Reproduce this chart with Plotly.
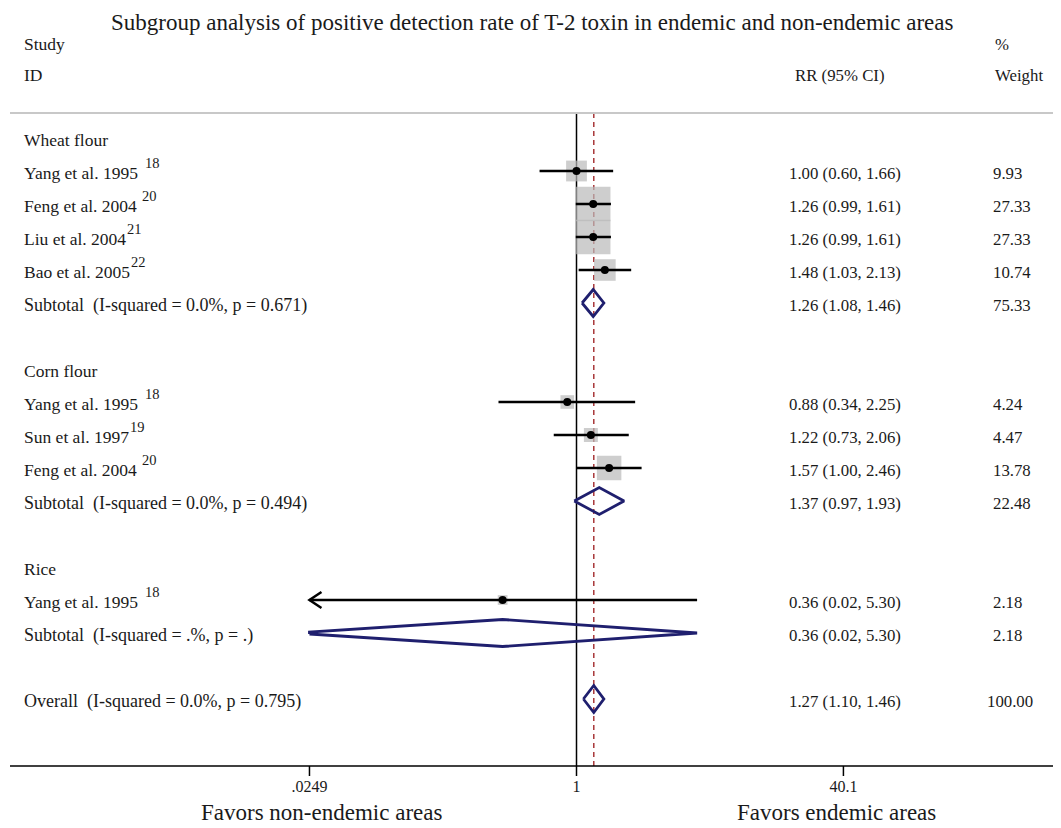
import math
import plotly.graph_objects as go

# ---------------- data ----------------
title = "Subgroup analysis of positive detection rate of T-2 toxin in endemic and non-endemic areas"

groups = ["Wheat flour", "Corn flour", "Rice"]
study_group = [0, 0, 0, 0, 1, 1, 1, 2]
study_labels = ["Yang et al. 1995 ", "Feng et al. 2004 ", "Liu et al. 2004", "Bao et al. 2005",
                "Yang et al. 1995 ", "Sun et al. 1997", "Feng et al. 2004 ", "Yang et al. 1995 "]
study_refs = ["18", "20", "21", "22", "18", "19", "20", "18"]
study_rr = [1.00, 1.26, 1.26, 1.48, 0.88, 1.22, 1.57, 0.36]
study_lo = [0.60, 0.99, 0.99, 1.03, 0.34, 0.73, 1.00, 0.02]
study_hi = [1.66, 1.61, 1.61, 2.13, 2.25, 2.06, 2.46, 5.30]
study_w = [9.93, 27.33, 27.33, 10.74, 4.24, 4.47, 13.78, 2.18]

sub_het = ["I-squared = 0.0%, p = 0.671", "I-squared = 0.0%, p = 0.494", "I-squared = .%, p = ."]
sub_rr = [1.26, 1.37, 0.36]
sub_lo = [1.08, 0.97, 0.02]
sub_hi = [1.46, 1.93, 5.30]
sub_w = [75.33, 22.48, 2.18]

overall_het = "I-squared = 0.0%, p = 0.795"
overall_rr = 1.27
overall_lo = 1.10
overall_hi = 1.46
overall_w = 100.00

tick_vals = [0.0249, 1, 40.1]
tick_text = [".0249", "1", "40.1"]
favors_labels = ["Favors non-endemic areas", "Favors endemic areas"]

# ---------------- layout constants ----------------
PAGE_W, PAGE_H = 1061, 828
OFF = 8                                  # default body margin of the html page
W, H = PAGE_W - OFF, PAGE_H - OFF        # figure size
X1PX, DEC = 576.5, 166.5                 # page pixel of RR=1, pixels per decade
ROW0, ROWH = 138.0, 33.0                 # page pixel of first row, row height
FONT = "Liberation Serif, Times New Roman, serif"
TXT = "#1a1a1a"
NAVY = "#1f1f6e"
GREY = "#b9b9b9"
RED = "#a8383a"
XMIN, XMAX = tick_vals[0], tick_vals[-1]

# Times-compatible advance widths (1/1000 em), used to place the superscripts
TIMES_W = {" ": 250, ".": 250, "a": 444, "e": 444, "g": 500, "i": 278, "l": 278, "n": 500,
           "o": 500, "t": 278, "u": 500, "B": 667, "F": 556, "L": 611, "S": 556, "Y": 722}


def text_width(s, size):
    return sum(TIMES_W.get(c, 500) for c in s) * size / 1000.0


def prow(py):
    return (py - ROW0) / ROWH


def pxp(px):
    return (px - OFF) / W


# rows
rows_group, rows_study, rows_sub = [], [], []
k = 0
for g in range(len(groups)):
    rows_group.append(k)
    k += 1
    for i in range(len(study_labels)):
        if study_group[i] == g:
            rows_study.append(k)
            k += 1
    rows_sub.append(k)
    k += 2
row_overall = k

y_top = prow(113)
y_axis = prow(766)

fig = go.Figure()

# reference lines
fig.add_trace(go.Scatter(x=[1, 1], y=[y_top, y_axis], mode="lines",
                         line=dict(color="black", width=1.5), hoverinfo="skip"))
fig.add_trace(go.Scatter(x=[overall_rr, overall_rr], y=[y_top, y_axis], mode="lines",
                         line=dict(color=RED, width=1.5, dash="5px,4px"), hoverinfo="skip"))

# weight squares
fig.add_trace(go.Scatter(x=study_rr, y=rows_study, mode="markers",
                         marker=dict(symbol="square", color=GREY,
                                     size=[6.6 * math.sqrt(w) for w in study_w],
                                     line=dict(width=0)),
                         hoverinfo="skip"))

# CI lines (clipped) + arrows
cx, cy = [], []
ax_, ay_ = [], []
arrow_dx = 12 / DEC
for r, lo, hi, yy in zip(study_rr, study_lo, study_hi, rows_study):
    lo_c, hi_c = max(lo, XMIN), min(hi, XMAX)
    cx += [lo_c, hi_c, None]
    cy += [yy, yy, None]
    if lo < XMIN:
        ax_ += [lo_c * 10 ** arrow_dx, lo_c, lo_c * 10 ** arrow_dx, None]
        ay_ += [yy - 0.24, yy, yy + 0.24, None]
    if hi > XMAX:
        ax_ += [hi_c / 10 ** arrow_dx, hi_c, hi_c / 10 ** arrow_dx, None]
        ay_ += [yy - 0.24, yy, yy + 0.24, None]
fig.add_trace(go.Scatter(x=cx, y=cy, mode="lines", line=dict(color="black", width=2.5),
                         hoverinfo="skip"))
fig.add_trace(go.Scatter(x=ax_, y=ay_, mode="lines", line=dict(color="black", width=2.5),
                         hoverinfo="skip"))

# point estimates
fig.add_trace(go.Scatter(x=study_rr, y=rows_study, mode="markers",
                         marker=dict(symbol="circle", color="black", size=8),
                         hoverinfo="skip"))


# diamonds
def clip_poly(pts, xmin, xmax):
    def clip(pts, inside, inter):
        out = []
        n = len(pts)
        for i in range(n):
            cur, prev = pts[i], pts[i - 1]
            if inside(cur):
                if not inside(prev):
                    out.append(inter(prev, cur))
                out.append(cur)
            elif inside(prev):
                out.append(inter(prev, cur))
        return out

    def ix(xc):
        def f(a, b):
            t = (xc - a[0]) / (b[0] - a[0])
            return (xc, a[1] + t * (b[1] - a[1]))
        return f
    pts = clip(pts, lambda p: p[0] >= xmin, ix(xmin))
    pts = clip(pts, lambda p: p[0] <= xmax, ix(xmax))
    return pts


HH = 13.5 / ROWH
dx, dy = [], []
for r, lo, hi, yy in zip(sub_rr + [overall_rr], sub_lo + [overall_lo],
                         sub_hi + [overall_hi], rows_sub + [row_overall]):
    L, C, R = math.log10(lo), math.log10(r), math.log10(hi)
    poly = [(L, yy), (C, yy - HH), (R, yy), (C, yy + HH)]
    poly = clip_poly(poly, math.log10(XMIN), math.log10(XMAX))
    poly.append(poly[0])
    dx += [10 ** p[0] for p in poly] + [None]
    dy += [p[1] for p in poly] + [None]
fig.add_trace(go.Scatter(x=dx, y=dy, mode="lines", line=dict(color=NAVY, width=2.8),
                         hoverinfo="skip"))

# bottom axis ticks
tx, ty = [], []
for v in tick_vals:
    tx += [v, v, None]
    ty += [y_axis, prow(776), None]
fig.add_trace(go.Scatter(x=tx, y=ty, mode="lines", line=dict(color="black", width=1.5),
                         hoverinfo="skip"))
fig.add_trace(go.Scatter(x=tick_vals, y=[prow(788)] * len(tick_vals), mode="text",
                         text=tick_text, textposition="middle center",
                         textfont=dict(family=FONT, size=16, color=TXT), hoverinfo="skip"))

# ---------------- text ----------------
ann = []


def txt(px, row, s, size=17.5, xanchor="left", yshift=-2):
    ann.append(dict(x=pxp(px), y=row, xref="paper", yref="y", text=s, showarrow=False,
                    xanchor=xanchor, yanchor="middle", yshift=yshift,
                    font=dict(family=FONT, size=size, color=TXT)))


LX, RRX, WX = 22, 787, 991
LAB = 17.5
NUM = 16.8
txt(532, prow(22), title, size=23, xanchor="center", yshift=0)
txt(LX, prow(42), "Study")
txt(LX, prow(73), "ID")
txt(793, prow(73), "RR (95% CI)", size=NUM)
txt(993, prow(42), "%", size=NUM)
txt(993, prow(73), "Weight", size=NUM)

for g, name in enumerate(groups):
    txt(LX, rows_group[g], name)
for i in range(len(study_labels)):
    yy = rows_study[i]
    txt(LX, yy, study_labels[i].rstrip(), size=LAB)
    sx = LX + text_width(study_labels[i], LAB) + 1
    txt(sx, yy, study_refs[i], size=14.5, yshift=8)
    txt(RRX, yy, f"{study_rr[i]:.2f} ({study_lo[i]:.2f}, {study_hi[i]:.2f})", size=NUM)
    txt(WX, yy, f"{study_w[i]:.2f}", size=NUM)
for g in range(len(groups)):
    yy = rows_sub[g]
    txt(LX, yy, f"Subtotal  ({sub_het[g]})", size=18)
    txt(RRX, yy, f"{sub_rr[g]:.2f} ({sub_lo[g]:.2f}, {sub_hi[g]:.2f})", size=NUM)
    txt(WX, yy, f"{sub_w[g]:.2f}", size=NUM)
txt(LX, row_overall, f"Overall  ({overall_het})", size=18)
txt(RRX, row_overall, f"{overall_rr:.2f} ({overall_lo:.2f}, {overall_hi:.2f})", size=NUM)
txt(WX - 6, row_overall, f"{overall_w:.2f}", size=NUM)

txt(321, prow(812), favors_labels[0], size=23, xanchor="center", yshift=0)
txt(836, prow(812), favors_labels[1], size=23, xanchor="center", yshift=0)

shapes = [
    dict(type="line", xref="paper", yref="y", x0=pxp(10), x1=1, y0=y_top, y1=y_top,
         line=dict(color="#c8c8c8", width=2)),
    dict(type="line", xref="paper", yref="y", x0=pxp(10), x1=1, y0=y_axis, y1=y_axis,
         line=dict(color="black", width=1.5)),
]

fig.update_layout(
    width=W, height=H,
    margin=dict(l=0, r=0, t=0, b=0),
    paper_bgcolor="white", plot_bgcolor="white",
    showlegend=False,
    xaxis=dict(type="log", range=[(OFF - X1PX) / DEC, (PAGE_W - X1PX) / DEC],
               visible=False, fixedrange=True),
    yaxis=dict(range=[prow(PAGE_H), prow(OFF)], visible=False, fixedrange=True),
    annotations=ann,
    shapes=shapes,
)

fig.write_html("out.html")
